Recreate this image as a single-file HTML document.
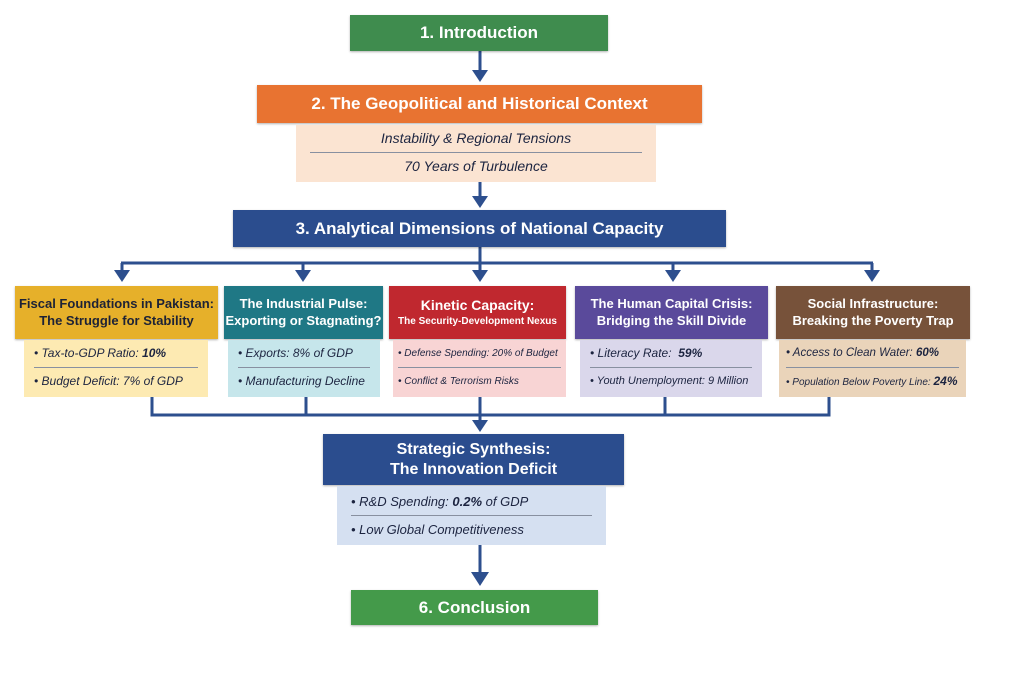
<!DOCTYPE html>
<html><head><style>
body{margin:0;width:1024px;height:683px;background:#fff;position:relative;overflow:hidden;font-family:"Liberation Sans",sans-serif}
.b{position:absolute;box-sizing:border-box;color:#fff;font-weight:bold;text-align:center;display:flex;flex-direction:column;justify-content:center;align-items:center;box-shadow:0 1px 2px rgba(0,0,0,.3);line-height:1.25;white-space:nowrap}
.p{position:absolute;box-sizing:border-box;color:#1c2440;font-style:italic;font-size:12px;padding:0 10px}
.p div{height:27px;line-height:27px;white-space:nowrap}
.p div:first-child{border-bottom:1px solid #8890a0}
svg{position:absolute;left:0;top:0}
</style></head><body>
<svg width="1024" height="683">
<g stroke="#2d4f8e" stroke-width="3" fill="none">
<line x1="480" y1="51" x2="480" y2="72"/>
<line x1="480" y1="180" x2="480" y2="198"/>
<line x1="480" y1="247" x2="480" y2="263"/>
<line x1="121" y1="263" x2="873" y2="263"/>
<line x1="122" y1="263" x2="122" y2="272"/><line x1="303" y1="263" x2="303" y2="272"/><line x1="480" y1="263" x2="480" y2="272"/><line x1="673" y1="263" x2="673" y2="272"/><line x1="872" y1="263" x2="872" y2="272"/>
<polyline points="152,397 152,415 829,415 829,397"/>
<line x1="306" y1="397" x2="306" y2="415"/><line x1="480" y1="397" x2="480" y2="422"/><line x1="665" y1="397" x2="665" y2="415"/>
<line x1="480" y1="545" x2="480" y2="574"/>
</g>
<g fill="#2d4f8e">
<polygon points="472,70 488,70 480,82"/>
<polygon points="472,196 488,196 480,208"/>
<polygon points="114,270 130,270 122,282"/><polygon points="295,270 311,270 303,282"/><polygon points="472,270 488,270 480,282"/><polygon points="665,270 681,270 673,282"/><polygon points="864,270 880,270 872,282"/>
<polygon points="472,420 488,420 480,432"/>
<polygon points="471,572 489,572 480,586"/>
</g>
</svg>
<div class="b" style="left:350px;top:15px;width:258px;height:36px;background:#3f8c4e;font-size:17px">1. Introduction</div>
<div class="b" style="left:257px;top:85px;width:445px;height:38px;background:#e87331;font-size:17px">2. The Geopolitical and Historical Context</div>
<div class="p" style="left:296px;top:125px;width:360px;height:57px;background:#fbe4d2;text-align:center;font-size:14px;padding:0 14px"><div>Instability &amp; Regional Tensions</div><div>70 Years of Turbulence</div></div>
<div class="b" style="left:233px;top:210px;width:493px;height:37px;background:#2b4d8e;font-size:17px">3. Analytical Dimensions of National Capacity</div>

<div class="b" style="left:15px;top:286px;width:203px;height:53px;background:#e6b02a;color:#1d2236;font-size:13px">Fiscal Foundations in Pakistan:<br>The Struggle for Stability</div>
<div class="p" style="left:24px;top:340px;width:184px;height:57px;background:#fdeab2"><div>• Tax-to-GDP Ratio: <b>10%</b></div><div>• Budget Deficit: 7% of GDP</div></div>

<div class="b" style="left:224px;top:286px;width:159px;height:53px;background:#1f7885;font-size:13px">The Industrial Pulse:<br>Exporting or Stagnating?</div>
<div class="p" style="left:228px;top:340px;width:152px;height:57px;background:#c6e6eb"><div>• Exports: 8% of GDP</div><div>• Manufacturing Decline</div></div>

<div class="b" style="left:389px;top:286px;width:177px;height:53px;background:#c0282f;font-size:14px">Kinetic Capacity:<span style="font-size:10px;margin-top:2px">The Security-Development Nexus</span></div>
<div class="p" style="left:393px;top:340px;width:173px;height:57px;background:#f8d4d4;font-size:10px;padding:0 5px"><div>• Defense Spending: 20% of Budget</div><div>• Conflict &amp; Terrorism Risks</div></div>

<div class="b" style="left:575px;top:286px;width:193px;height:53px;background:#5a4a9b;font-size:13px">The Human Capital Crisis:<br>Bridging the Skill Divide</div>
<div class="p" style="left:580px;top:340px;width:182px;height:57px;background:#dad7eb;font-size:12px"><div>• Literacy Rate: &nbsp;<b>59%</b></div><div style="font-size:11px">• Youth Unemployment: 9 Million</div></div>

<div class="b" style="left:776px;top:286px;width:194px;height:53px;background:#77523a;font-size:13px">Social Infrastructure:<br>Breaking the Poverty Trap</div>
<div class="p" style="left:779px;top:340px;width:187px;height:57px;background:#ead4ba;padding:0 7px"><div style="font-size:11.5px">• Access to Clean Water: <b>60%</b></div><div style="font-size:10px">• Population Below Poverty Line: <b style="font-size:12px">24%</b></div></div>

<div class="b" style="left:323px;top:434px;width:301px;height:51px;background:#2b4d8e;font-size:16px">Strategic Synthesis:<br>The Innovation Deficit</div>
<div class="p" style="left:337px;top:486px;width:269px;height:59px;background:#d5e0f1;font-size:13px;padding:2px 14px 0 14px"><div>• R&amp;D Spending: <b>0.2%</b> of GDP</div><div>• Low Global Competitiveness</div></div>
<div class="b" style="left:351px;top:590px;width:247px;height:35px;background:#449a4a;font-size:17px">6. Conclusion</div>
</body></html>
